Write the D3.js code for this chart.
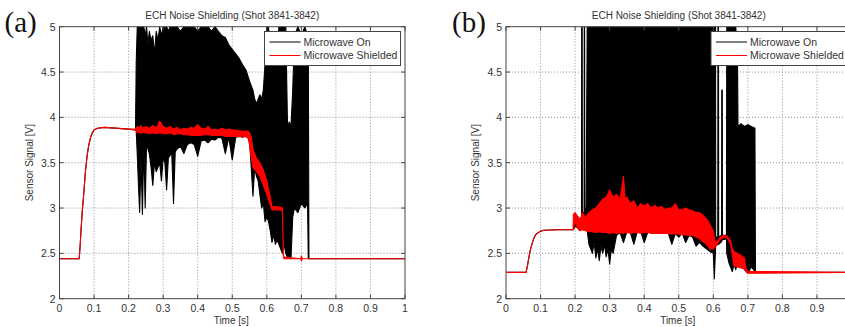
<!DOCTYPE html>
<html><head><meta charset="utf-8">
<script src="https://cdn.jsdelivr.net/npm/d3@7"></script>
<style>body{margin:0;background:#fff}svg{display:block}</style>
</head><body><svg id="c" width="845" height="327" font-family="'Liberation Sans',Arial,sans-serif"></svg>
<script>
const xTicks=[0,0.1,0.2,0.3,0.4,0.5,0.6,0.7,0.8,0.9,1];
const yTicks=[2,2.5,3,3.5,4,4.5,5];
const panelLabels=["(a)","(b)"];
const titleText="ECH Noise Shielding (Shot 3841-3842)";
const xLabel="Time [s]", yLabel="Sensor Signal [V]";
const legendLabels=["Microwave On","Microwave Shielded"];
// [time, low, high]
const onA=[[0,2.44,2.44],[0.057,2.44,2.44],[0.06,2.6,2.6],[0.063,2.8,2.8],[0.066,2.97,2.97],[0.07,3.15,3.15],[0.075,3.4,3.4],[0.08,3.58,3.58],[0.085,3.7,3.7],[0.09,3.78,3.78],[0.095,3.83,3.83],[0.1,3.86,3.86],[0.11,3.88,3.88],[0.13,3.89,3.89],[0.2,3.87,3.87],[0.22,3.86,3.86],
[0.222,3.85,4.6],[0.225,3.6,5],[0.228,3.3,5],[0.232,2.95,5],[0.236,3.55,5],[0.24,2.93,5],[0.244,3.7,5],[0.248,3.0,4.9],[0.252,3.72,5],[0.256,3.65,4.8],[0.26,3.6,4.95],[0.265,3.45,4.85],[0.27,3.25,4.9],[0.275,3.5,4.7],[0.28,3.4,4.95],[0.285,3.45,4.85],[0.29,3.5,5],[0.295,3.3,4.9],[0.3,3.55,5],[0.305,3.5,5],[0.31,3.2,5],[0.315,3.55,4.95],[0.32,3.58,5],[0.325,3.6,5],[0.33,3.05,5],[0.335,3.62,5],[0.34,3.65,5],[0.35,3.68,4.95],[0.36,3.6,5],[0.37,3.7,5],[0.38,3.72,5],[0.39,3.7,5],[0.4,3.57,4.95],[0.41,3.74,5],[0.42,3.75,5],[0.43,3.72,5],[0.44,3.76,4.95],[0.45,3.75,5],[0.46,3.78,4.95],[0.47,3.77,4.9],[0.48,3.6,4.88],[0.49,3.78,4.8],[0.5,3.53,4.75],[0.51,3.78,4.7],[0.52,3.79,4.65],[0.53,3.78,4.58],[0.54,3.8,4.52],[0.55,3.75,4.4],[0.56,3.13,4.3],[0.565,3.45,4.2],[0.57,3.35,4.15],[0.575,3.3,4.2],[0.58,3.15,4.25],[0.585,3.0,4.2],[0.59,3.05,4.3],[0.595,2.85,4.6],[0.6,2.9,5],[0.605,2.85,5],[0.61,2.75,4.7],[0.615,2.62,4.6],[0.62,2.7,4.7],[0.625,2.6,4.65],[0.63,2.65,4.7],[0.635,2.6,5],[0.64,2.55,5],[0.645,2.5,5],[0.65,2.6,5],[0.655,2.5,5],[0.66,2.45,3.9],[0.665,2.47,3.95],[0.67,2.44,3.9],[0.675,2.9,4.3],[0.68,3.0,4.9],[0.69,2.95,5],[0.7,3.05,4.9],[0.71,3.0,5],[0.718,3.05,4.9],[0.72,2.44,4.9],[0.722,2.44,2.44],[1,2.44,2.44]];
const shA=[[0,2.44,2.44],[0.057,2.44,2.44],[0.06,2.6,2.6],[0.063,2.8,2.8],[0.066,2.97,2.97],[0.07,3.15,3.15],[0.075,3.4,3.4],[0.08,3.58,3.58],[0.085,3.7,3.7],[0.09,3.78,3.78],[0.095,3.83,3.83],[0.1,3.86,3.86],[0.11,3.88,3.88],[0.13,3.89,3.89],[0.2,3.87,3.87],[0.22,3.86,3.87],
[0.225,3.83,3.9],[0.23,3.84,3.88],[0.235,3.82,3.91],[0.24,3.84,3.88],[0.25,3.83,3.9],[0.26,3.82,3.88],[0.27,3.83,3.91],[0.28,3.82,3.88],[0.29,3.83,3.96],[0.3,3.82,3.9],[0.31,3.82,3.88],[0.32,3.83,3.9],[0.33,3.81,3.87],[0.34,3.82,3.89],[0.35,3.82,3.86],[0.36,3.81,3.88],[0.37,3.81,3.87],[0.38,3.8,3.89],[0.39,3.8,3.88],[0.4,3.8,3.92],[0.41,3.8,3.88],[0.42,3.81,3.87],[0.43,3.81,3.9],[0.44,3.8,3.86],[0.45,3.8,3.87],[0.46,3.8,3.86],[0.47,3.8,3.88],[0.48,3.79,3.86],[0.49,3.79,3.87],[0.5,3.79,3.86],[0.51,3.79,3.86],[0.52,3.79,3.85],[0.53,3.79,3.85],[0.545,3.78,3.85],[0.55,3.7,3.83],[0.555,3.55,3.78],[0.56,3.45,3.65],[0.57,3.4,3.55],[0.58,3.35,3.5],[0.59,3.25,3.42],[0.6,3.15,3.3],[0.61,3.03,3.12],[0.615,2.98,3.02],[0.64,2.98,3.01],[0.645,2.96,3.0],[0.648,2.46,2.5],[0.65,2.44,2.46],[0.698,2.44,2.44],[0.7,2.42,2.47],[0.703,2.44,2.44],[1,2.44,2.44]];
const onB=[[0,2.29,2.29],[0.058,2.29,2.29],[0.062,2.36,2.36],[0.066,2.45,2.45],[0.07,2.53,2.53],[0.075,2.6,2.6],[0.08,2.66,2.66],[0.085,2.7,2.7],[0.09,2.72,2.72],[0.1,2.745,2.745],[0.11,2.755,2.755],[0.15,2.76,2.76],[0.195,2.76,2.76],[0.2,2.8,2.9],[0.215,2.76,2.88],[0.2185,2.78,2.9],[0.219,2.78,5],[0.2205,2.8,5],[0.221,2.8,2.95],[0.226,2.78,2.95],[0.2265,2.78,5],[0.2275,2.8,5],[0.228,2.8,3.0],[0.232,2.78,3.0],[0.235,2.75,5],[0.24,2.6,5],[0.245,2.55,5],[0.25,2.5,5],[0.255,2.62,5],[0.26,2.45,5],[0.265,2.55,5],[0.27,2.42,5],[0.275,2.58,5],[0.28,2.5,5],[0.285,2.6,5],[0.29,2.46,5],[0.295,2.55,5],[0.3,2.38,5],[0.305,2.55,5],[0.31,2.5,5],[0.315,2.6,5],[0.32,2.7,5],[0.33,2.73,5],[0.34,2.62,5],[0.35,2.74,5],[0.36,2.73,5],[0.37,2.6,5],[0.38,2.74,5],[0.39,2.74,5],[0.4,2.62,5],[0.41,2.73,5],[0.42,2.74,5],[0.43,2.74,5],[0.44,2.73,5],[0.45,2.74,5],[0.46,2.73,5],[0.47,2.72,5],[0.48,2.6,5],[0.49,2.72,5],[0.5,2.68,5],[0.51,2.72,5],[0.52,2.62,5],[0.53,2.7,5],[0.54,2.68,5],[0.55,2.58,5],[0.56,2.62,5],[0.57,2.58,5],[0.58,2.55,5],[0.59,2.52,5],[0.6,2.5,5],[0.603,2.22,5],[0.6065,2.55,5],[0.607,2.58,2.68],[0.613,2.6,2.68],[0.6135,2.6,5],[0.615,2.6,5],[0.6155,2.6,2.68],[0.624,2.63,2.7],[0.6245,2.64,4.3],[0.626,2.65,4.3],[0.6265,2.65,2.7],[0.638,2.66,2.7],[0.639,2.5,5],[0.645,2.4,5],[0.65,2.35,5],[0.655,2.3,5],[0.66,2.38,5],[0.665,2.32,5],[0.67,2.4,4.7],[0.6715,2.35,3.9],[0.68,2.4,3.93],[0.69,2.32,3.9],[0.7,2.28,3.92],[0.71,2.35,3.9],[0.7205,2.3,3.88],[0.722,2.29,2.29],[1,2.29,2.29]];
const shB=[[0,2.29,2.29],[0.058,2.29,2.29],[0.062,2.36,2.36],[0.066,2.45,2.45],[0.07,2.53,2.53],[0.075,2.6,2.6],[0.08,2.66,2.66],[0.085,2.7,2.7],[0.09,2.72,2.72],[0.1,2.745,2.745],[0.11,2.755,2.755],[0.15,2.76,2.76],[0.194,2.76,2.76],[0.195,2.76,2.93],[0.2,2.85,2.95],[0.205,2.8,2.92],[0.21,2.76,2.9],[0.215,2.75,2.85],[0.22,2.76,2.95],[0.23,2.75,2.9],[0.24,2.74,2.95],[0.25,2.74,2.98],[0.26,2.73,3.0],[0.27,2.74,3.05],[0.28,2.73,3.1],[0.29,2.73,3.12],[0.3,2.72,3.2],[0.31,2.73,3.12],[0.32,2.72,3.15],[0.33,2.73,3.1],[0.34,2.72,3.35],[0.345,2.73,3.1],[0.35,2.73,3.12],[0.36,2.72,3.05],[0.37,2.73,3.08],[0.38,2.73,3.0],[0.39,2.72,3.05],[0.4,2.73,3.02],[0.41,2.73,3.05],[0.42,2.72,3.0],[0.43,2.72,3.03],[0.44,2.72,3.0],[0.45,2.72,3.02],[0.46,2.72,2.98],[0.47,2.72,3.0],[0.48,2.71,3.0],[0.49,2.72,3.05],[0.5,2.71,2.98],[0.51,2.71,2.98],[0.52,2.7,3.0],[0.53,2.7,2.98],[0.54,2.7,2.97],[0.55,2.68,2.95],[0.56,2.66,2.95],[0.57,2.63,2.92],[0.58,2.6,2.88],[0.59,2.55,2.82],[0.6,2.55,2.75],[0.605,2.57,2.62],[0.61,2.6,2.63],[0.62,2.65,2.68],[0.63,2.68,2.7],[0.64,2.67,2.69],[0.65,2.6,2.64],[0.655,2.48,2.55],[0.66,2.36,2.52],[0.67,2.35,2.5],[0.68,2.34,2.48],[0.69,2.33,2.45],[0.695,2.3,2.33],[0.7,2.28,2.3],[1,2.29,2.29]];

const panels=[{left:59.5,label:panelLabels[0],on:onA,sh:shA},{left:506,label:panelLabels[1],on:onB,sh:shB}];
const W=345.5, yTop=26.7, yBot=298.7, svgW=845;
const svg=d3.select("#c");
const colors=["#000000","#ff0000"];
panels.forEach((p,i)=>{
  const x=d3.scaleLinear().domain([0,1]).range([p.left,p.left+W]);
  const y=d3.scaleLinear().domain([2,5]).range([yBot,yTop]);
  const g=svg.append("g");
  const cid="clip"+i;
  svg.append("clipPath").attr("id",cid).append("rect").attr("x",p.left).attr("y",yTop).attr("width",W).attr("height",yBot-yTop);
  g.append("g").selectAll("line").data(xTicks.slice(1,-1)).join("line")
    .attr("x1",d=>x(d)).attr("x2",d=>x(d)).attr("y1",yTop).attr("y2",yBot)
    .attr("stroke","#777").attr("stroke-width",0.8).attr("stroke-dasharray","1,2");
  g.append("g").selectAll("line").data(yTicks.slice(1,-1)).join("line")
    .attr("y1",d=>y(d)).attr("y2",d=>y(d)).attr("x1",p.left).attr("x2",p.left+W)
    .attr("stroke","#777").attr("stroke-width",0.8).attr("stroke-dasharray","1,2");
  const area=d3.area().x(d=>x(d[0])).y0(d=>y(d[1])).y1(d=>y(d[2]));
  const dg=g.append("g").attr("clip-path",`url(#${cid})`);
  [p.on,p.sh].forEach((s,k)=>{
    dg.append("path").datum(s).attr("d",area).attr("fill",colors[k]).attr("stroke",colors[k])
      .attr("stroke-width",1.1).attr("stroke-linejoin","round");
  });
  g.append("rect").attr("x",p.left).attr("y",yTop).attr("width",W).attr("height",yBot-yTop)
    .attr("fill","none").attr("stroke","#444").attr("stroke-width",1);
  const tk=4;
  xTicks.forEach(t=>{
    g.append("line").attr("x1",x(t)).attr("x2",x(t)).attr("y1",yBot).attr("y2",yBot-tk).attr("stroke","#444");
    g.append("line").attr("x1",x(t)).attr("x2",x(t)).attr("y1",yTop).attr("y2",yTop+tk).attr("stroke","#444");
  });
  yTicks.forEach(t=>{
    g.append("line").attr("x1",p.left).attr("x2",p.left+tk).attr("y1",y(t)).attr("y2",y(t)).attr("stroke","#444");
    g.append("line").attr("x1",p.left+W).attr("x2",p.left+W-tk).attr("y1",y(t)).attr("y2",y(t)).attr("stroke","#444");
  });
  g.append("g").selectAll("text").data(xTicks.filter(d=>x(d)+4<=svgW)).join("text")
    .attr("x",d=>x(d)).attr("y",yBot+13).attr("text-anchor","middle")
    .attr("font-size",10.5).attr("fill","#333").text(d=>d3.format("~g")(d));
  g.append("g").selectAll("text").data(yTicks).join("text")
    .attr("x",p.left-4).attr("y",d=>y(d)+3.8).attr("text-anchor","end")
    .attr("font-size",10.5).attr("fill","#333").text(d=>d3.format("~g")(d));
  g.append("text").attr("x",p.left+W/2-1).attr("y",324).attr("text-anchor","middle")
    .attr("font-size",10).attr("fill","#333").text(xLabel);
  g.append("text").attr("transform",`translate(${p.left-27},${(yTop+yBot)/2}) rotate(-90)`)
    .attr("text-anchor","middle").attr("font-size",10).attr("fill","#333").text(yLabel);
  g.append("text").attr("x",p.left+W/2).attr("y",18.5).attr("text-anchor","middle")
    .attr("font-size",10).attr("fill","#333").text(titleText);
  g.append("text").attr("x",p.left-55+(i?1:0)).attr("y",32)
    .style("font-family","'Liberation Serif','Times New Roman',serif")
    .attr("font-size",29).attr("fill","#111").text(p.label);
  const lx=p.left+W-4.5-136, ly=31.5;
  const lg=g.append("g");
  lg.append("rect").attr("x",lx).attr("y",ly).attr("width",136).attr("height",34)
    .attr("fill","#fff").attr("stroke","#444").attr("stroke-width",1);
  legendLabels.forEach((lab,k)=>{
    const yy=ly+10.5+k*13.5;
    lg.append("line").attr("x1",lx+5).attr("x2",lx+36).attr("y1",yy).attr("y2",yy)
      .attr("stroke",colors[k]).attr("stroke-width",1);
    lg.append("text").attr("x",lx+39).attr("y",yy+3.8).attr("font-size",10.5).attr("fill","#333").text(lab);
  });
});
</script></body></html>
